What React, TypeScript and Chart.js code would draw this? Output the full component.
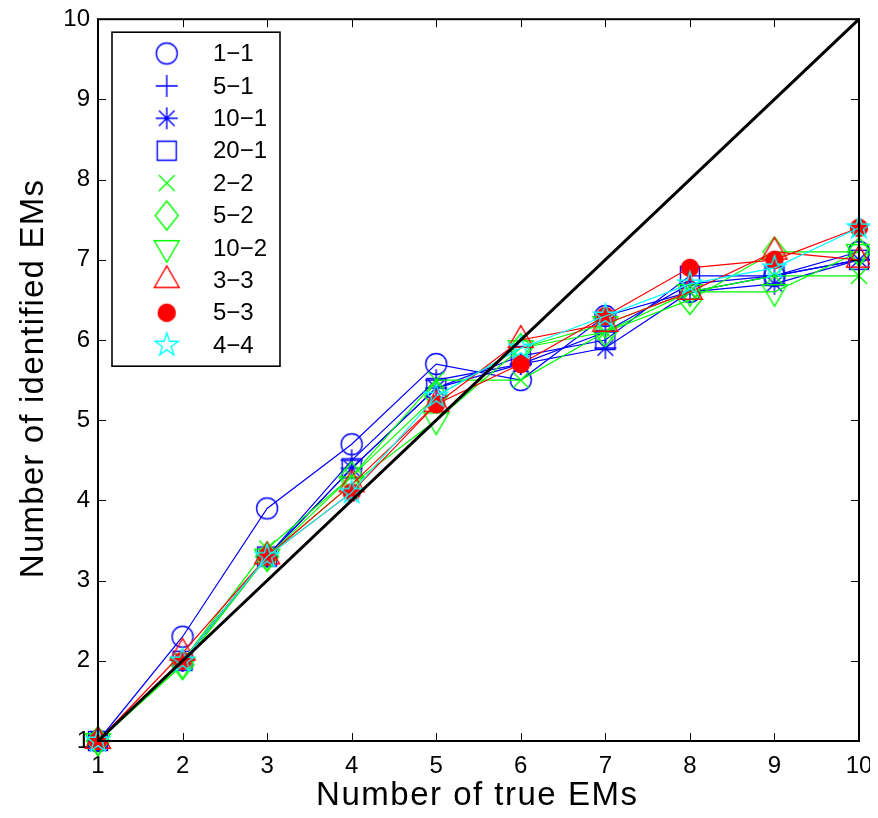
import React, { useEffect, useRef } from 'react';
import { Chart, registerables } from 'chart.js';

Chart.register(...registerables);

const xValues = [1, 2, 3, 4, 5, 6, 7, 8, 9, 10];
const tickValues = [1, 2, 3, 4, 5, 6, 7, 8, 9, 10];
const diagonal = [1, 10];

const s1_1 = [1, 2.3, 3.9, 4.7, 5.7, 5.5, 6.3, 6.6, 6.8, 7.1];
const s5_1 = [1, 2.0, 3.3, 4.5, 5.5, 5.7, 6.1, 6.7, 6.8, 7.0];
const s10_1 = [1, 2.0, 3.3, 4.4, 5.4, 5.7, 5.9, 6.6, 6.7, 7.0];
const s20_1 = [1, 2.0, 3.3, 4.4, 5.4, 5.8, 6.0, 6.8, 6.8, 7.0];
const s2_2 = [1, 2.0, 3.4, 4.3, 5.5, 5.5, 6.1, 6.6, 6.8, 6.8];
const s5_2 = [1, 1.95, 3.3, 4.3, 5.3, 5.9, 6.1, 6.5, 7.1, 7.1];
const s10_2 = [1, 1.95, 3.3, 4.2, 5.0, 5.9, 6.2, 6.6, 6.6, 7.1];
const s3_3 = [1, 2.1, 3.3, 4.2, 5.2, 6.0, 6.2, 6.6, 7.1, 7.0];
const s5_3 = [1, 2.0, 3.3, 4.1, 5.2, 5.7, 6.3, 6.9, 7.0, 7.4];
const s4_4 = [1, 2.0, 3.3, 4.1, 5.3, 5.9, 6.3, 6.7, 6.9, 7.4];

const seriesLabels = ['1−1', '5−1', '10−1', '20−1', '2−2', '5−2', '10−2', '3−3', '5−3', '4−4'];
const seriesValues = [s1_1, s5_1, s10_1, s20_1, s2_2, s5_2, s10_2, s3_3, s5_3, s4_4];
const seriesColors = ['#0000ff', '#0000ff', '#0000ff', '#0000ff', '#00ff00', '#00ff00', '#00ff00', '#ff0000', '#ff0000', '#00ffff'];
const seriesMarkers = ['circle', 'plus', 'asterisk', 'square', 'x', 'diamond', 'tridown', 'triup', 'dot', 'pentagram'];

const xTitle = 'Number of true EMs';
const yTitle = 'Number of identified EMs';
const FONT = '"Liberation Sans", Arial, Helvetica, sans-serif';

function makeMarker(kind: string, color: string): HTMLCanvasElement {
  const c = document.createElement('canvas');
  c.width = 40;
  c.height = 40;
  const g = c.getContext('2d')!;
  g.translate(20, 20);
  g.strokeStyle = color;
  g.fillStyle = color;
  g.lineWidth = 1.4;
  g.beginPath();
  if (kind === 'circle') {
    g.arc(0, 0, 10.5, 0, Math.PI * 2);
  } else if (kind === 'plus') {
    g.moveTo(-11, 0); g.lineTo(11, 0);
    g.moveTo(0, -11); g.lineTo(0, 11);
  } else if (kind === 'asterisk') {
    g.moveTo(-11, 0); g.lineTo(11, 0);
    g.moveTo(0, -11); g.lineTo(0, 11);
    const d = 7.8;
    g.moveTo(-d, -d); g.lineTo(d, d);
    g.moveTo(-d, d); g.lineTo(d, -d);
  } else if (kind === 'square') {
    g.rect(-9.5, -9.5, 19, 19);
  } else if (kind === 'x') {
    g.moveTo(-8, -8); g.lineTo(8, 8);
    g.moveTo(-8, 8); g.lineTo(8, -8);
  } else if (kind === 'diamond') {
    g.moveTo(0, -14.5); g.lineTo(11.5, 0); g.lineTo(0, 14.5); g.lineTo(-11.5, 0); g.closePath();
  } else if (kind === 'tridown') {
    const r = 14.4;
    g.moveTo(0, r); g.lineTo(r * 0.866, -r * 0.5); g.lineTo(-r * 0.866, -r * 0.5); g.closePath();
  } else if (kind === 'triup') {
    const r = 14.4;
    g.moveTo(0, -r); g.lineTo(r * 0.866, r * 0.5); g.lineTo(-r * 0.866, r * 0.5); g.closePath();
  } else if (kind === 'dot') {
    g.arc(0, 0, 8.5, 0, Math.PI * 2);
    g.fill();
  } else if (kind === 'pentagram') {
    const ro = 12.2, ri = ro * 0.382;
    for (let i = 0; i < 10; i++) {
      const r = i % 2 === 0 ? ro : ri;
      const a = -Math.PI / 2 + (i * Math.PI) / 5;
      const px = r * Math.cos(a), py = r * Math.sin(a);
      if (i === 0) g.moveTo(px, py); else g.lineTo(px, py);
    }
    g.closePath();
  }
  g.stroke();
  return c;
}

function drawSpaced(ctx: any, text: string, cx: number, baseY: number, spacing: number) {
  const chars = Array.from(text);
  const widths = chars.map((ch) => ctx.measureText(ch).width);
  const total = widths.reduce((s, w) => s + w, 0) + spacing * (widths.length - 1);
  let x = cx - total / 2;
  chars.forEach((ch, i) => {
    ctx.fillText(ch, x, baseY);
    x += widths[i] + spacing;
  });
}

export default function App() {
  const ref = useRef<HTMLCanvasElement | null>(null);

  useEffect(() => {
    if (!ref.current) return;
    const markers = seriesMarkers.map((m, i) => makeMarker(m, seriesColors[i]));

    const datasets: any[] = seriesValues.map((vals, i) => ({
      label: seriesLabels[i],
      data: xValues.map((x, j) => ({ x, y: vals[j] })),
      borderColor: seriesColors[i],
      backgroundColor: seriesColors[i],
      borderWidth: 1.2,
      pointStyle: markers[i],
      pointRadius: 10,
      fill: false,
      tension: 0,
      clip: false,
      order: seriesValues.length - i,
    }));
    datasets.push({
      label: 'y = x',
      data: diagonal.map((v) => ({ x: v, y: v })),
      borderColor: '#000000',
      borderWidth: 3,
      pointRadius: 0,
      fill: false,
      clip: false,
      order: 0,
    });

    const framePlugin = {
      id: 'frame',
      afterDatasetsDraw(chart: any) {
        const { ctx, chartArea: a, scales } = chart;
        const xs = scales.x, ys = scales.y;
        ctx.save();
        ctx.strokeStyle = '#000';
        ctx.lineWidth = 1;
        ctx.beginPath();
        for (const t of tickValues) {
          const px = Math.round(xs.getPixelForValue(t)) + 0.5;
          ctx.moveTo(px, a.bottom); ctx.lineTo(px, a.bottom - 8);
          ctx.moveTo(px, a.top); ctx.lineTo(px, a.top + 8);
          const py = Math.round(ys.getPixelForValue(t)) + 0.5;
          ctx.moveTo(a.left, py); ctx.lineTo(a.left + 8, py);
          ctx.moveTo(a.right, py); ctx.lineTo(a.right - 8, py);
        }
        ctx.stroke();
        ctx.lineWidth = 2;
        ctx.strokeRect(a.left, a.top, a.right - a.left, a.bottom - a.top);

        // axis titles
        ctx.fillStyle = '#000';
        ctx.font = '33px ' + FONT;
        ctx.textBaseline = 'alphabetic';
        ctx.textAlign = 'left';
        drawSpaced(ctx, xTitle, (a.left + a.right) / 2 - 2, 797, 1.5);
        ctx.save();
        ctx.translate(34.5, (a.top + a.bottom) / 2 - 1);
        ctx.rotate(-Math.PI / 2);
        drawSpaced(ctx, yTitle, 0, 0, 1.2);
        ctx.restore();

        // legend
        const lx = a.left + 14, ly = a.top + 13, lw = 168, lh = 334;
        ctx.fillStyle = '#fff';
        ctx.fillRect(lx, ly, lw, lh);
        ctx.lineWidth = 1.6;
        ctx.strokeStyle = '#000';
        ctx.strokeRect(lx, ly, lw, lh);
        ctx.font = '24px ' + FONT;
        ctx.textBaseline = 'middle';
        ctx.textAlign = 'left';
        ctx.fillStyle = '#000';
        for (let i = 0; i < seriesLabels.length; i++) {
          const cy = a.top + 34.3 + i * 32.4;
          const m = markers[i];
          ctx.drawImage(m, a.left + 68.7 - m.width / 2, cy - m.height / 2);
          ctx.fillText(seriesLabels[i], a.left + 115, cy + 1);
        }
        ctx.restore();
      },
    };

    const chart = new Chart(ref.current, {
      type: 'line',
      data: { datasets },
      plugins: [framePlugin],
      options: {
        animation: false,
        responsive: true,
        maintainAspectRatio: false,
        layout: { padding: { left: 0, top: 6, right: 19, bottom: 0 } },
        plugins: { legend: { display: false }, tooltip: { enabled: false } },
        scales: {
          x: {
            type: 'linear',
            min: 1,
            max: 10,
            afterBuildTicks: (s: any) => { s.ticks = tickValues.map((v) => ({ value: v })); },
            ticks: { font: { size: 24, family: FONT }, color: '#000', padding: 11, maxRotation: 0, autoSkip: false },
            grid: { display: false, drawTicks: false },
            border: { display: false },
            title: { display: false, text: xTitle },
            afterFit: (s: any) => { s.height = 69; s.paddingLeft = 0; s.paddingRight = 0; },
          },
          y: {
            type: 'linear',
            min: 1,
            max: 10,
            afterBuildTicks: (s: any) => { s.ticks = tickValues.map((v) => ({ value: v })); },
            ticks: { font: { size: 24, family: FONT }, color: '#000', padding: 8, autoSkip: false },
            grid: { display: false, drawTicks: false },
            border: { display: false },
            title: { display: false, text: yTitle },
            afterFit: (s: any) => { s.width = 90; s.paddingTop = 0; s.paddingBottom = 0; },
          },
        },
      },
    } as any);
    return () => chart.destroy();
  }, []);

  return (
    <div style={{ position: 'relative', width: 870, height: 802 }}>
      <canvas ref={ref} />
    </div>
  );
}
